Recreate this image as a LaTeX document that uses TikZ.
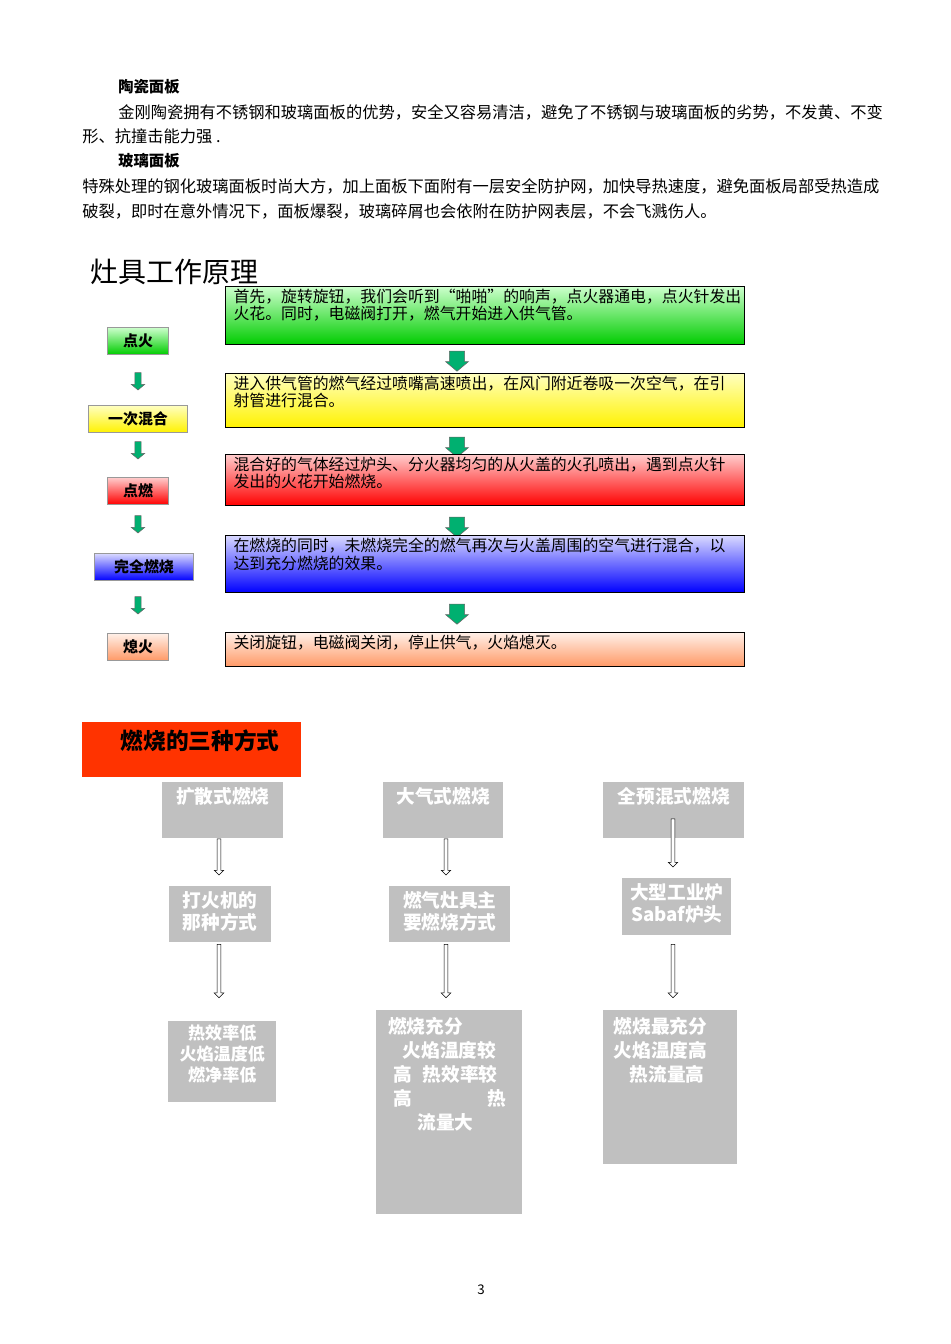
\documentclass[tikz,border=0pt]{standalone}
\usepackage{fontspec}
\setmainfont{Noto Sans CJK SC}
\usepackage{xcolor}
\usetikzlibrary{shapes.arrows,positioning}
\definecolor{teal1}{HTML}{00B070}
\definecolor{greybox}{HTML}{C0C0C0}
\definecolor{redhead}{HTML}{FF3300}
\definecolor{salmon1}{HTML}{FF9966}

\tikzset{
  txt/.style={anchor=west, inner sep=0pt, font=\fontsize{12.2}{14}\selectfont},
  flowbox/.style={draw=black, thick, anchor=north west, inner sep=0pt, minimum width=389pt},
  stepbox/.style={draw=black!40, thick, anchor=north west, inner sep=0pt, minimum height=20.25pt,
    font=\fontsize{11.2}{13}\selectfont\bfseries},
  greynode/.style={fill=greybox, anchor=north west, inner sep=0pt, text=white},
  bigarrow/.style={single arrow, shape border rotate=270, fill=teal1, draw=black!60,
    inner sep=4pt, minimum width=17pt, minimum height=15pt, single arrow head extend=2pt,
    single arrow tip angle=100},
  smallarrow/.style={single arrow, shape border rotate=270, fill=teal1, draw=black!60,
    inner sep=1.6pt, minimum width=10pt, minimum height=13pt, single arrow head extend=2pt,
    single arrow tip angle=100},
  hollow/.style={single arrow, shape border rotate=270, fill=white, draw=black, thin,
    inner sep=1.2pt, minimum width=7pt, single arrow head extend=2pt}
}
\newcommand{\boxtext}[3]{\parbox[t][#2][t]{#1}{\vspace{2pt}\hspace*{6pt}\parbox[t]{\dimexpr#1-10pt\relax}{\fontsize{11.9}{13}\selectfont #3}}}
\newcommand{\greytext}[3]{\parbox[t][#2][t]{#1}{\vspace{4pt}\centering\fontsize{14}{16.5}\selectfont\bfseries #3\par}}

\begin{document}
\begin{tikzpicture}[x=0.75pt, y=-0.75pt]
\useasboundingbox (0,0) rectangle (950,1344);

% text at the top
\node[txt, font=\fontsize{11.5}{13}\selectfont\bfseries] (h1) at (118,87) {陶瓷面板};
\node[txt] (p1) at (118,112) {金刚陶瓷拥有不锈钢和玻璃面板的优势，安全又容易清洁，避免了不锈钢与玻璃面板的劣势，不发黄、不变};
\node[txt] (p2) at (82,136) {形、抗撞击能力强 .};
\node[txt, font=\fontsize{11.5}{13}\selectfont\bfseries] (h2) at (118,161) {玻璃面板};
\node[txt] (p3) at (82,186) {特殊处理的钢化玻璃面板时尚大方，加上面板下面附有一层安全防护网，加快导热速度，避免面板局部受热造成};
\node[txt] (p4) at (82,211) {破裂，即时在意外情况下，面板爆裂，玻璃碎屑也会依附在防护网表层，不会飞溅伤人。};

\node[txt, font=\fontsize{21}{23}\selectfont] (title) at (90,272) {灶具工作原理};

% teal arrows between the boxes
\node[bigarrow] (a1) at (457,358) {};
\node[bigarrow] (a2) at (457,444) {};
\node[bigarrow] (a3) at (457,524) {};
\node[bigarrow] (a4) at (457,611) {};

% right column
\node[flowbox, top color=green!20, bottom color=green!80!black] (b1) at (225,286)
  {\boxtext{389pt}{43.5pt}{首先，旋转旋钮，我们会听到“啪啪”的响声，点火器通电，点火针发出\\火花。同时，电磁阀打开，燃气开始进入供气管。}};
\node[flowbox, top color=yellow!25, bottom color=yellow!90!orange] (b2) at (225,373)
  {\boxtext{389pt}{40.5pt}{进入供气管的燃气经过喷嘴高速喷出，在风门附近卷吸一次空气，在引\\射管进行混合。}};
\node[flowbox, top color=red!20, bottom color=red] (b3) at (225,454)
  {\boxtext{389pt}{38.25pt}{混合好的气体经过炉头、分火器均匀的从火盖的火孔喷出，遇到点火针\\发出的火花开始燃烧。}};
\node[flowbox, top color=blue!15, bottom color=blue] (b4) at (225,535)
  {\boxtext{389pt}{42.75pt}{在燃烧的同时，未燃烧完全的燃气再次与火盖周围的空气进行混合，以\\达到充分燃烧的效果。}};
\node[flowbox, top color=salmon1!15, bottom color=salmon1] (b5) at (225,632)
  {\boxtext{389pt}{25.5pt}{关闭旋钮，电磁阀关闭，停止供气，火焰熄灭。}};

% left column
\node[stepbox, minimum width=45.75pt, top color=green!20, bottom color=green!80!black] (s1) at (107,327) {点火};
\node[stepbox, minimum width=74.25pt, top color=yellow!25, bottom color=yellow!90!orange] (s2) at (88,405) {一次混合};
\node[stepbox, minimum width=45.75pt, top color=red!20, bottom color=red] (s3) at (107,477) {点燃};
\node[stepbox, minimum width=74.25pt, top color=blue!15, bottom color=blue] (s4) at (94,553) {完全燃烧};
\node[stepbox, minimum width=45.75pt, top color=salmon1!15, bottom color=salmon1] (s5) at (107,633) {熄火};

\node[smallarrow] (l1) at (138,380) {};
\node[smallarrow] (l2) at (138,449) {};
\node[smallarrow] (l3) at (138,523) {};
\node[smallarrow] (l4) at (138,604) {};

% three kinds of burning
\node[fill=redhead, anchor=north west, minimum width=164.25pt, minimum height=41.25pt, inner sep=0pt] (head) at (82,722) {};
\node[font=\fontsize{17}{18}\selectfont\bfseries] (headtxt) at (200,741) {燃烧的三种方式};

\node[greynode] (k1) at (162,782) {\greytext{90.75pt}{42pt}{扩散式燃烧}};
\node[greynode] (k2) at (169,886) {\greytext{76.5pt}{42pt}{打火机的\\那种方式}};
\node[greynode] (k3) at (168,1021) {\parbox[t][60.75pt][t]{81pt}{\vspace{3pt}\centering\fontsize{12.8}{15.5}\selectfont\bfseries 热效率低\\火焰温度低\\燃净率低\par}};

\node[greynode] (d1) at (383,782) {\greytext{90pt}{42pt}{大气式燃烧}};
\node[greynode] (d2) at (389,886) {\greytext{90.75pt}{42pt}{燃气灶具主\\要燃烧方式}};
\node[greynode] (d3) at (376,1010) {\parbox[t][153pt][t]{109.5pt}{\vspace{5pt}\fontsize{14}{18}\selectfont\bfseries
  \hspace*{9pt}燃烧充分\\
  \hspace*{20pt}火焰温度较\\
  \hspace*{13pt}高\hspace{8pt}热效率较\\
  \hspace*{13pt}高\hfill 热\hspace*{12pt}\\
  \hspace*{31pt}流量大\par}};

\node[greynode] (q1) at (603,782) {\greytext{105.75pt}{42pt}{全预混式燃烧}};
\node[greynode] (q2) at (622,878) {\greytext{81.75pt}{42.75pt}{大型工业炉\\Sabaf炉头}};
\node[greynode] (q3) at (603,1010) {\parbox[t][115.5pt][t]{100.5pt}{\vspace{5pt}\fontsize{14}{18}\selectfont\bfseries
  \hspace*{8pt}燃烧最充分\\
  \hspace*{8pt}火焰温度高\\
  \hspace*{20pt}热流量高\par}};

\node[hollow, minimum height=27pt] (ha1) at (219,856) {};
\node[hollow, minimum height=40pt] (ha2) at (219,970) {};
\node[hollow, minimum height=27pt] (ha3) at (446,856) {};
\node[hollow, minimum height=40pt] (ha4) at (446,970) {};
\node[hollow, minimum height=36pt] (ha5) at (673,842) {};
\node[hollow, minimum height=40pt] (ha6) at (673,970) {};

\node[font=\fontsize{10}{12}\selectfont] (page) at (481,1290) {3};
\end{tikzpicture}
\end{document}
